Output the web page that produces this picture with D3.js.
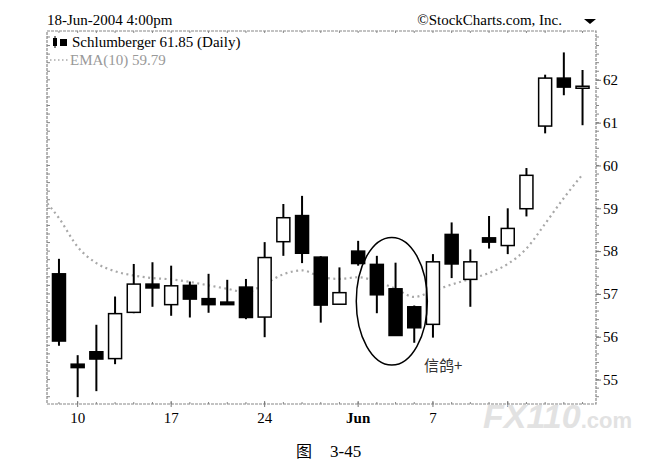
<!DOCTYPE html>
<html>
<head>
<meta charset="utf-8">
<script src="https://cdn.jsdelivr.net/npm/d3@7"></script>
<style>
  body { margin: 0; background: #fff; }
  text { font-family: "Liberation Serif", "DejaVu Serif", serif; }
</style>
</head>
<body>
<div id="chart"></div>
<script>
// trading days shown on the chart (May 31 and Jun 11 markets closed)
var days = ["May 7","May 10","May 11","May 12","May 13","May 14","May 17","May 18","May 19","May 20",
            "May 21","May 24","May 25","May 26","May 27","May 28","Jun 1","Jun 2","Jun 3","Jun 4",
            "Jun 7","Jun 8","Jun 9","Jun 10","Jun 14","Jun 15","Jun 16","Jun 17","Jun 18"];

var opens  = [57.47,55.36,55.65,55.49,56.57,57.23,56.75,57.20,56.89,56.81,
              57.16,56.46,58.22,58.83,57.86,56.76,58.00,57.69,57.12,56.70,
              56.29,58.39,57.34,58.31,58.13,58.99,60.92,62.04,61.84];
var highs  = [57.82,55.57,56.28,56.94,57.70,57.74,57.66,57.29,57.47,57.33,
              57.35,58.21,59.10,59.29,57.88,57.62,58.24,57.89,57.73,56.73,
              57.93,58.67,58.04,58.82,59.00,59.94,62.12,62.64,62.23];
var lows   = [55.79,54.59,54.73,55.36,56.55,56.70,56.49,56.45,56.56,56.75,
              56.41,55.99,57.89,57.72,56.33,56.76,57.66,56.55,56.02,55.86,
              55.98,57.37,56.70,58.06,57.93,58.81,60.75,61.64,60.94];
var closes = [55.90,55.28,55.48,56.54,57.23,57.14,57.19,56.88,56.75,56.75,
              56.45,57.85,58.78,57.95,56.74,57.03,57.71,56.98,56.03,56.21,
              57.75,57.70,57.75,58.21,58.53,59.77,62.04,61.83,61.85];

// EMA(10), first value is the day before the first candle (clipped at the frame)
var ema = [59.31,58.77,58.10,57.72,57.53,57.43,57.37,57.34,57.28,57.20,57.12,
           57.04,57.23,57.46,57.55,57.40,57.35,57.39,57.29,57.12,56.93,
           57.07,57.22,57.35,57.49,57.70,58.06,58.64,59.24,59.79];

// the "14" label sits under the watermark in the picture, so only its tick shows
var tickDays   = ["May 10","May 17","May 24","Jun 1","Jun 7","Jun 14"];
var tickLabels = ["10","17","24","Jun","7",""];
var priceTicks = [55,56,57,58,59,60,61,62];

var W = 661, H = 464;
var plot = {left: 47, right: 596, top: 31, bottom: 404};

var svg = d3.select("#chart").append("svg")
    .attr("width", W).attr("height", H);

var x = d3.scaleLinear().domain([-0.64, 28.72]).range([plot.left, plot.right]);
var y = d3.scaleLinear().domain([54.43, 63.14]).range([plot.bottom, plot.top]);

svg.append("clipPath").attr("id", "clip")
  .append("rect")
    .attr("x", plot.left).attr("y", plot.top)
    .attr("width", plot.right - plot.left).attr("height", plot.bottom - plot.top);

// header
svg.append("text").attr("x", 47).attr("y", 25).style("font-size", "15px").text("18-Jun-2004 4:00pm");
svg.append("text").attr("x", 562).attr("y", 25).attr("text-anchor", "end")
    .style("font-size", "15px").text("\u00A9StockCharts.com, Inc.");
svg.append("path").attr("d", "M584,19 L596,19 L590,24 Z").attr("fill", "#000");

// frame
svg.append("rect")
    .attr("x", plot.left).attr("y", plot.top)
    .attr("width", plot.right - plot.left).attr("height", plot.bottom - plot.top)
    .attr("fill", "none").attr("stroke", "#888").attr("stroke-width", 1.2)
    .attr("stroke-dasharray", "3,1");

// minor price ticks, left inside and right outside
var minor = d3.range(54.6, 63.01, 0.2);
svg.append("g").selectAll("line").data(minor).enter().append("line")
    .attr("x1", plot.left).attr("x2", plot.left + 3)
    .attr("y1", function(d) { return y(d); }).attr("y2", function(d) { return y(d); })
    .attr("stroke", "#888");
svg.append("g").selectAll("line").data(minor).enter().append("line")
    .attr("x1", plot.right).attr("x2", plot.right + 3)
    .attr("y1", function(d) { return y(d); }).attr("y2", function(d) { return y(d); })
    .attr("stroke", "#888");

// right axis
var yAxis = svg.append("g")
    .attr("transform", "translate(" + plot.right + ",0)")
    .call(d3.axisRight(y).tickValues(priceTicks).tickSize(5).tickPadding(2).tickFormat(d3.format("d")));
yAxis.select(".domain").remove();
yAxis.selectAll("line").attr("stroke", "#777");
yAxis.selectAll("text").style("font-size", "15px").style("font-family", "Liberation Serif").attr("fill", "#000");

// day ticks on top and bottom
svg.append("g").selectAll("line").data(days).enter().append("line")
    .attr("x1", function(d, i) { return x(i); }).attr("x2", function(d, i) { return x(i); })
    .attr("y1", plot.top).attr("y2", plot.top + 2).attr("stroke", "#888");
svg.append("g").selectAll("line").data(days).enter().append("line")
    .attr("x1", function(d, i) { return x(i); }).attr("x2", function(d, i) { return x(i); })
    .attr("y1", plot.bottom).attr("y2", plot.bottom - 2).attr("stroke", "#888");

// bottom labels
var xt = svg.append("g");
tickDays.forEach(function(d, k) {
  var xi = x(days.indexOf(d));
  xt.append("line").attr("x1", xi).attr("x2", xi)
      .attr("y1", plot.bottom - 3).attr("y2", plot.bottom + 3).attr("stroke", "#777");
  if (!tickLabels[k]) return;
  xt.append("text").attr("x", xi).attr("y", 423).attr("text-anchor", "middle")
      .style("font-size", "15px")
      .style("font-weight", tickLabels[k] == "Jun" ? "bold" : "normal")
      .text(tickLabels[k]);
});

// EMA line
var emaLine = d3.line()
    .x(function(d, i) { return x(i - 1); })
    .y(function(d) { return y(d); })
    .curve(d3.curveMonotoneX);
svg.append("path").datum(ema)
    .attr("clip-path", "url(#clip)")
    .attr("d", emaLine)
    .attr("fill", "none").attr("stroke", "#a8a8a8").attr("stroke-width", 2.2)
    .attr("stroke-dasharray", "2,3.5");

// candles
var bw = 13;
var candles = svg.append("g").selectAll("g").data(days).enter().append("g");
candles.append("line")
    .attr("x1", function(d, i) { return x(i); }).attr("x2", function(d, i) { return x(i); })
    .attr("y1", function(d, i) { return y(highs[i]); })
    .attr("y2", function(d, i) { return y(lows[i]); })
    .attr("stroke", "#000").attr("stroke-width", 2);
candles.append("rect")
    .attr("x", function(d, i) { return x(i) - bw / 2; })
    .attr("y", function(d, i) { return y(Math.max(opens[i], closes[i])); })
    .attr("width", bw)
    .attr("height", function(d, i) { return Math.max(2, Math.abs(y(opens[i]) - y(closes[i]))); })
    .attr("fill", function(d, i) { return closes[i] > opens[i] ? "#fff" : "#000"; })
    .attr("stroke", "#000").attr("stroke-width", 1.5);

// legend
svg.append("rect").attr("x", 53).attr("y", 38).attr("width", 4).attr("height", 8).attr("fill", "#000");
svg.append("rect").attr("x", 60).attr("y", 39).attr("width", 7).attr("height", 7).attr("fill", "#000");
svg.append("line").attr("x1", 55).attr("x2", 55).attr("y1", 36).attr("y2", 48).attr("stroke", "#000");
svg.append("text").attr("x", 72).attr("y", 47).style("font-size", "15px").text("Schlumberger 61.85 (Daily)");
svg.append("line").attr("x1", 50).attr("x2", 68).attr("y1", 60).attr("y2", 60)
    .attr("stroke", "#aaa").attr("stroke-width", 1.5).attr("stroke-dasharray", "1.5,2.5");
svg.append("text").attr("x", 70).attr("y", 65).attr("fill", "#999").style("font-size", "15px").text("EMA(10) 59.79");

// homing pigeon annotation
svg.append("ellipse")
    .attr("cx", x(17.8)).attr("cy", y(56.83))
    .attr("rx", x(17.8 + 1.9) - x(17.8)).attr("ry", y(56.83) - y(56.83 + 1.49))
    .attr("fill", "none").attr("stroke", "#000").attr("stroke-width", 1.5);
svg.append("text").attr("x", 424).attr("y", 371)
    .style("font-family", "Noto Sans CJK SC").style("font-size", "15px").attr("fill", "#333")
    .text("信鸽+");

// watermark
var wm = svg.append("text").attr("x", 483).attr("y", 428)
    .attr("fill", "#e2e2e2")
    .style("font-family", "Liberation Sans").style("font-weight", "bold");
wm.append("tspan").style("font-size", "34px").style("font-style", "italic").text("FX110");
wm.append("tspan").style("font-size", "22px").text(".com");

// caption
svg.append("text").attr("x", 296).attr("y", 457)
    .style("font-family", "Noto Sans CJK SC").style("font-size", "16px").text("图");
svg.append("text").attr("x", 330).attr("y", 457).style("font-size", "17px").text("3-45");
</script>
</body>
</html>
